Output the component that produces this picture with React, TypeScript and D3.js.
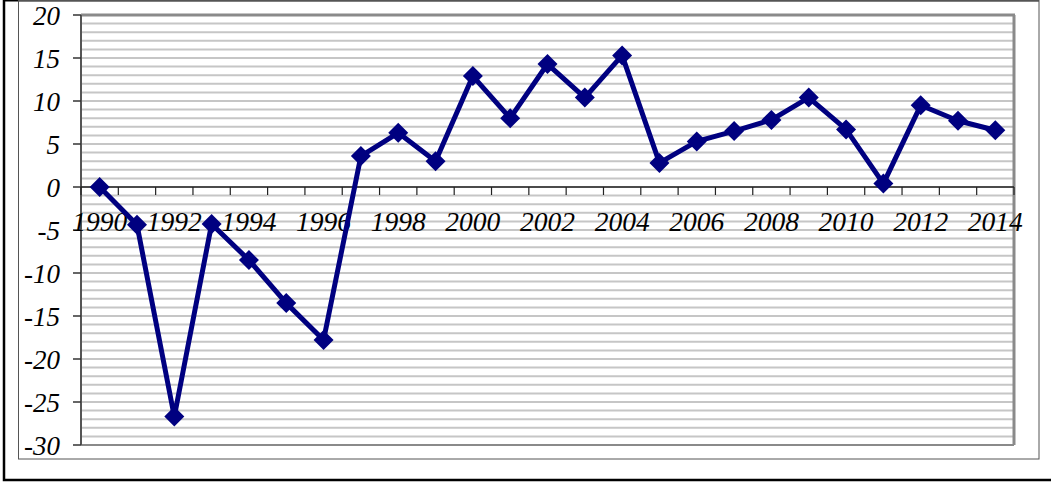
import React from "react";
import * as d3 from "d3";

const years: number[] = [1990,1991,1992,1993,1994,1995,1996,1997,1998,1999,2000,2001,2002,2003,2004,2005,2006,2007,2008,2009,2010,2011,2012,2013,2014];
const values: number[] = [0,-4.4,-26.7,-4.3,-8.5,-13.5,-17.8,3.6,6.3,3.0,12.9,8.0,14.3,10.4,15.3,2.8,5.3,6.5,7.8,10.4,6.7,0.4,9.5,7.7,6.6];
const yTicks: number[] = [20,15,10,5,0,-5,-10,-15,-20,-25,-30];
const xLabelYears: number[] = [1990,1992,1994,1996,1998,2000,2002,2004,2006,2008,2010,2012,2014];

export default function App() {
  const W = 1051, H = 484;
  const left = 81, right = 1014, top = 15, bottom = 445;
  const x = d3.scaleBand<number>().domain(years).range([left, right]).padding(0);
  const y = d3.scaleLinear().domain([-30, 20]).range([bottom, top]);
  const minor = d3.range(-29, 20, 1);
  const line = d3.line<number>().x((_, i) => (x(years[i]) as number) + x.bandwidth() / 2).y((d) => y(d));
  const font = "'Liberation Serif', 'Times New Roman', serif";
  const y0 = y(0);
  const boundaries = years.map((yr) => x(yr) as number).concat([right]);
  return (
    <svg width={W} height={H} style={{ position: "absolute", left: 0, top: 0 }}>
      <rect x={0} y={0} width={W} height={H} fill="#fff" />
      {/* outer frame */}
      <path d={`M4,0 V480 H${W}`} fill="none" stroke="#000" strokeWidth={2.5} />
      <line x1={4} y1={0.75} x2={1039} y2={0.75} stroke="#000" strokeWidth={1.5} />
      {/* inner frame */}
      <rect x={18.5} y={0.5} width={1020.5} height={458.5} fill="none" stroke="#555" strokeWidth={1} />
      {/* gridlines */}
      {minor.map((v) => (
        <line key={v} x1={left} x2={right} y1={y(v)} y2={y(v)} stroke="#c6c6c6" strokeWidth={2} />
      ))}
      {/* plot border */}
      <line x1={left} x2={right + 1} y1={top} y2={top} stroke="#8a8a8a" strokeWidth={3} />
      <line x1={right} x2={right} y1={top} y2={bottom} stroke="#8a8a8a" strokeWidth={3} />
      <line x1={left} x2={right} y1={bottom} y2={bottom} stroke="#8a8a8a" strokeWidth={2} />
      <line x1={left} x2={left} y1={top} y2={bottom} stroke="#555" strokeWidth={2} />
      {/* y ticks and labels */}
      {yTicks.map((t) => (
        <g key={t}>
          <line x1={73} x2={left} y1={y(t)} y2={y(t)} stroke="#333" strokeWidth={1.5} />
          <text x={60} y={y(t) + 9.5} textAnchor="end" fontFamily={font} fontStyle="italic" fontSize={27} fill="#000">
            {t}
          </text>
        </g>
      ))}
      {/* x axis at zero */}
      <line x1={left} x2={right} y1={y0} y2={y0} stroke="#222" strokeWidth={1.5} />
      {boundaries.map((bx, i) => (
        <line key={i} x1={bx} x2={bx} y1={y0} y2={y0 + 8} stroke="#222" strokeWidth={1.2} />
      ))}
      {xLabelYears.map((yr) => (
        <text key={yr} x={(x(yr) as number) + x.bandwidth() / 2} y={231} textAnchor="middle" fontFamily={font} fontStyle="italic" fontSize={27.5} fill="#000">
          {yr}
        </text>
      ))}
      {/* series */}
      <path d={line(values) || ""} fill="none" stroke="#000080" strokeWidth={5} strokeLinejoin="round" />
      {values.map((v, i) => {
        const cx = (x(years[i]) as number) + x.bandwidth() / 2;
        const cy = y(v);
        const r = 10;
        return <path key={i} d={`M${cx},${cy - r} L${cx + r},${cy} L${cx},${cy + r} L${cx - r},${cy} Z`} fill="#000080" />;
      })}
    </svg>
  );
}
